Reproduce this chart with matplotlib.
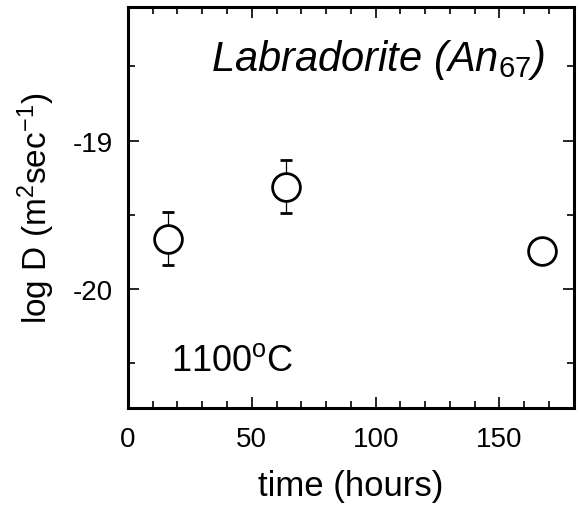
import matplotlib
matplotlib.use('Agg')
import matplotlib.pyplot as plt
from matplotlib.ticker import MultipleLocator

plt.rcParams['font.family'] = 'Liberation Sans'
plt.rcParams['axes.unicode_minus'] = False
plt.rcParams['mathtext.fontset'] = 'custom'
plt.rcParams['mathtext.rm'] = 'Liberation Sans'
plt.rcParams['mathtext.it'] = 'Liberation Sans:italic'

# data
time_h = [16, 64, 167]
log_d = [-19.66, -19.31, -19.745]
log_d_err = [0.18, 0.18, 0.0]

fig = plt.figure(figsize=(5.79, 5.06), dpi=100)
ax = fig.add_axes([0.221, 0.192, 0.770, 0.792])

ax.errorbar(time_h, log_d, yerr=log_d_err, fmt='o', ms=20, mfc='white',
            mec='black', mew=2.0, ecolor='black', elinewidth=0.9,
            capsize=4, capthick=0.9, zorder=3)

ax.set_xlim(0, 180)
ax.set_ylim(-20.8, -18.1)
ax.xaxis.set_major_locator(MultipleLocator(50))
ax.xaxis.set_minor_locator(MultipleLocator(10))
ax.yaxis.set_major_locator(MultipleLocator(1))
ax.yaxis.set_minor_locator(MultipleLocator(0.5))
ax.tick_params(which='both', direction='in', top=True, right=True,
               width=1.2, labelsize=20)
ax.tick_params(axis='x', which='major', length=8, pad=13)
ax.tick_params(axis='y', which='major', length=8, pad=11)
ax.tick_params(which='minor', length=5)
for s in ax.spines.values():
    s.set_linewidth(2.2)

ax.set_xlabel('time (hours)', fontsize=25, labelpad=12)
ax.set_ylabel('log D (m$^2$sec$^{-1}$)', fontsize=24, labelpad=11)

ax.text(0.935, 0.87, 'Labradorite (An$_{\\mathit{67}}$)', transform=ax.transAxes,
        ha='right', va='center', fontsize=30, style='italic')
ax.text(0.096, 0.117, '1100$^{\\rm o}$C', transform=ax.transAxes,
        ha='left', va='center', fontsize=26)

fig.savefig('out.png', dpi=100)
